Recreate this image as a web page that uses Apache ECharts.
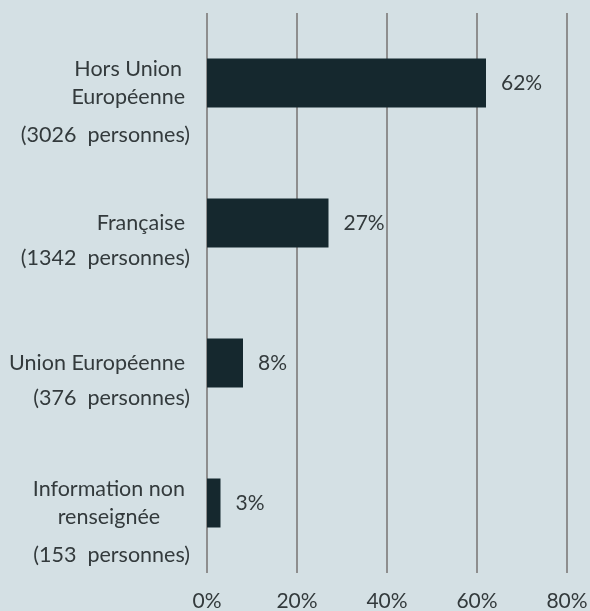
<!DOCTYPE html>
<html>
<head>
<meta charset="utf-8">
<script src="https://cdn.jsdelivr.net/npm/echarts@6/dist/echarts.min.js"></script>
<style>
  html, body { margin: 0; padding: 0; background: #d4e0e4; }
  #chart { width: 590px; height: 611px; }
</style>
</head>
<body>
<div id="chart"></div>
<script>
// Nationality groups, top to bottom, each name split into its display lines
const categoryLines = [
  ['Hors Union', 'Européenne'],
  ['Française'],
  ['Union Européenne'],
  ['Information non', 'renseignée']
];
const personCounts = [3026, 1342, 376, 153];
const shareValues = [62, 27, 8, 3];
const tickValues = [0, 20, 40, 60, 80];

const FONT = 'Lato, "Liberation Sans", sans-serif';
const FONT_SIZE = 21.5;
const AXIS_FONT_SIZE = 21;
const TEXT_COLOR = '#333a3c';

// measure text so multi-line names can be centred on each other
const measureCtx = document.createElement('canvas').getContext('2d');
measureCtx.font = FONT_SIZE + 'px ' + FONT;
const textWidth = s => measureCtx.measureText(s).width;

const NAME_LINE_H = 28;
const NAME_BASE_PAD = 5;
const rich = {};
const labelStrings = categoryLines.map((lines, i) => {
  const countLineH = lines.length > 1 ? 48 : 42;
  rich['sp' + i] = { lineHeight: countLineH, fontSize: 1 };
  rich['ct' + i] = { lineHeight: countLineH, fontSize: FONT_SIZE, fontFamily: FONT, color: TEXT_COLOR };
  const widest = Math.max(...lines.map(textWidth));
  const parts = ['{sp' + i + '| }'];
  lines.forEach((line, j) => {
    const key = 'nm' + i + '_' + j;
    rich[key] = {
      lineHeight: NAME_LINE_H, fontSize: FONT_SIZE, fontFamily: FONT, color: TEXT_COLOR,
      padding: [0, NAME_BASE_PAD + (widest - textWidth(line)) / 2, 0, 0]
    };
    parts.push('{' + key + '|' + line + '}');
  });
  parts.push('{ct' + i + '|(' + personCounts[i] + '  personnes)}');
  return parts.join('\n');
});

const categories = categoryLines.map(l => l.join(' '));

const chart = echarts.init(document.getElementById('chart'), null, { renderer: 'canvas' });
chart.setOption({
  backgroundColor: '#d4e0e4',
  animation: false,
  grid: { left: 207, right: 23, top: 13, bottom: 38, containLabel: false, outerBoundsMode: 'none' },
  xAxis: {
    type: 'value',
    min: tickValues[0],
    max: tickValues[tickValues.length - 1],
    interval: tickValues[1] - tickValues[0],
    axisLine: { show: false },
    axisTick: { show: false },
    splitLine: { show: true, lineStyle: { color: '#8e8e8e', width: 2 } },
    axisLabel: {
      formatter: '{value}%', margin: 18,
      fontSize: AXIS_FONT_SIZE, fontFamily: FONT, color: TEXT_COLOR
    }
  },
  yAxis: {
    type: 'category',
    inverse: true,
    data: categories,
    axisLine: { show: false },
    axisTick: { show: false },
    axisLabel: {
      margin: 17,
      align: 'right',
      formatter: (value, index) => labelStrings[index],
      rich: rich
    }
  },
  series: [{
    type: 'bar',
    data: shareValues,
    barWidth: 49,
    itemStyle: { color: '#15282e' },
    label: {
      show: true, position: 'right', distance: 15,
      formatter: '{c}%',
      fontSize: AXIS_FONT_SIZE, fontFamily: FONT, color: TEXT_COLOR
    }
  }]
});
</script>
</body>
</html>
